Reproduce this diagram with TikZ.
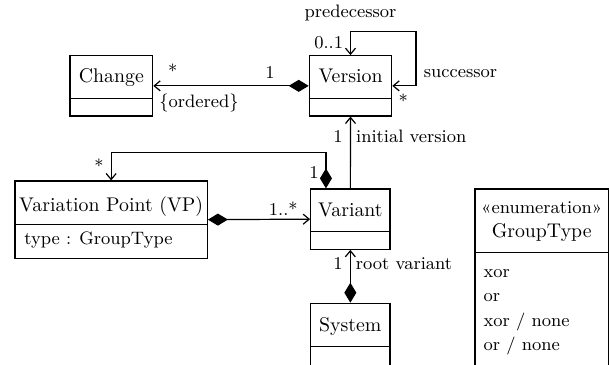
\documentclass[tikz,border=0pt]{standalone}
\usepackage{fontspec}
\usetikzlibrary{arrows.meta}

\tikzset{
  classbox/.style={draw, line width=0.6pt, inner sep=0pt},
  classname/.style={font=\fontsize{9.9}{12}\selectfont, inner sep=0pt, anchor=base},
  classattr/.style={font=\fontsize{9}{11}\selectfont, inner sep=0pt, anchor=base west},
  lbl/.style={font=\fontsize{9}{11}\selectfont, inner sep=0pt},
  assoc/.style={line width=0.6pt, -{Straight Barb[length=3pt,width=5pt]}},
  selfassoc/.style={line width=0.6pt, {Straight Barb[length=3pt,width=5pt]}-{Straight Barb[length=3pt,width=5pt]}},
  comp/.style={line width=0.6pt, {Diamond[length=10pt,width=6pt]}-{Straight Barb[length=3pt,width=5pt]}},
}

\begin{document}
\begin{tikzpicture}[x=0.5pt,y=-0.5pt]
  \useasboundingbox (0,0) rectangle (610,364);
  \clip (0,0) rectangle (610,364);

  % class boxes
  \node[classbox, minimum width=41.35pt, minimum height=30.15pt] (change) at (111.35,85.85) {};
  \node[classbox, minimum width=41.2pt, minimum height=30.15pt] (version) at (350.5,85.85) {};
  \node[classbox, minimum width=96.15pt, minimum height=38.65pt] (vp) at (111.15,219.65) {};
  \node[classbox, minimum width=39.65pt, minimum height=30.15pt] (variant) at (350.35,219.15) {};
  \node[classbox, minimum width=39.65pt, minimum height=31.4pt] (system) at (350.35,334.7) {};
  \node[classbox, minimum width=66.65pt, minimum height=105.5pt] (grouptype) at (541.65,294.5) {};

  % compartment lines
  \foreach \c/\d in {change/21.65pt, version/21.65pt, vp/21.85pt, variant/21.65pt, system/21.7pt, grouptype/31.85pt}
    \draw[line width=0.6pt] ([yshift=-\d]\c.north west) -- ([yshift=-\d]\c.north east);

  % class names and attributes
  \node[classname] (changename) at (111.35,82) {Change};
  \node[classname] (versionname) at (350.5,82) {Version};
  \node[classname] (vpname) at (111.15,211) {Variation Point (VP)};
  \node[classattr] (vptype) at (24,244.3) {type : GroupType};
  \node[classname] (variantname) at (350.35,216.7) {Variant};
  \node[classname] (systemname) at (350.35,331.7) {System};
  \node[lbl, anchor=base] (enumtag) at (541.65,213.3) {«enumeration»};
  \node[classname] (grouptypename) at (541.65,237.7) {GroupType};
  \node[classattr] (litxor) at (483.3,277.3) {xor};
  \node[classattr] (litor) at (483.3,301.5) {or};
  \node[classattr] (litxornone) at (483.3,326) {xor / none};
  \node[classattr] (litornone) at (483.3,350.5) {or / none};

  % connectors
  \coordinate (loopcorner) at (416,31.3);
  \coordinate (vpbend) at (111.15,152.7);
  \draw[comp] (version.west) -- (change.east);
  \draw[selfassoc] (version.north) |- (loopcorner) |- (version.east);
  \draw[assoc] (variant.north) -- (version.south);
  \draw[comp] ([xshift=-12.2pt]variant.north) |- (vpbend) -- (vp.north);
  \draw[comp] (vp.east) -- (variant.west);
  \draw[comp] (system.north) -- (variant.south);

  % multiplicities and role names
  \node[lbl, anchor=base] (changemany) at (172.7,77.5) {*};
  \node[lbl] (changeone) at (270,72.5) {1};
  \node[lbl] (ordered) at (199,103) {\{ordered\}};
  \node[lbl] (pred) at (350.5,13.3) {predecessor};
  \node[lbl] (predmult) at (328.7,42.5) {0..1};
  \node[lbl] (succ) at (460.5,74) {successor};
  \node[lbl, anchor=base] (succmult) at (403.3,107.7) {*};
  \node[lbl] (initone) at (338,136.7) {1};
  \node[lbl] (initrole) at (411.2,136) {initial version};
  \node[lbl, anchor=base] (vpmany) at (99,172.7) {*};
  \node[lbl] (vpone) at (314,173) {1};
  \node[lbl, anchor=base] (variantmany) at (283.3,215.5) {1..*};
  \node[lbl] (rootone) at (338,264) {1};
  \node[lbl] (rootrole) at (404,264) {root variant};
\end{tikzpicture}
\end{document}
